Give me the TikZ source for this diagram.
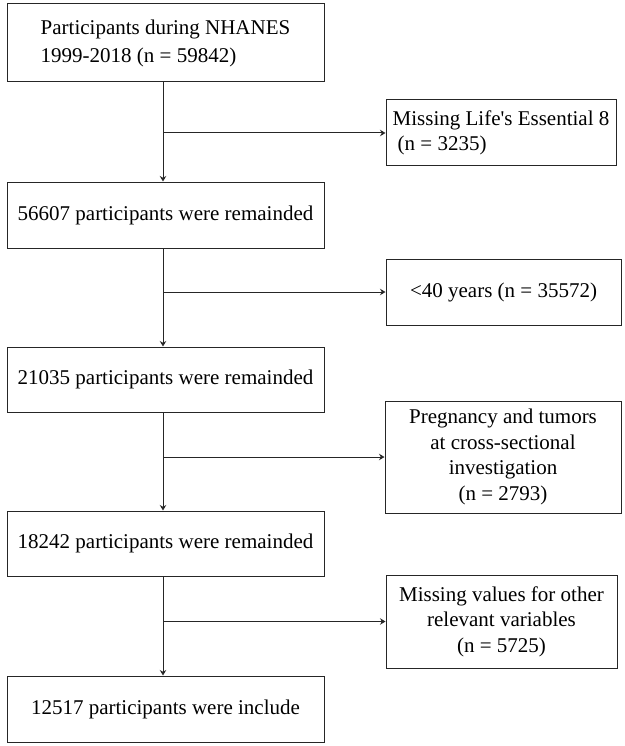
\documentclass[tikz,border=0pt]{standalone}
\usepackage{fontspec}
\setmainfont{Liberation Serif}
\usetikzlibrary{arrows.meta}
\begin{document}
\begin{tikzpicture}[x=1pt,y=-1pt,
  box/.style={draw=black!85, line width=1pt, rectangle, inner sep=0pt, font=\fontsize{21}{25.5}\selectfont, text=black},
  lbox/.style={box, minimum width=317pt},
  arr/.style={draw=black!85, line width=1pt, -{Stealth[length=5.5pt,width=6.5pt]}}
]
\useasboundingbox (0,0) rectangle (624,746);
% left column
\node[lbox, minimum height=78pt, align=left, font=\fontsize{21}{28}\selectfont] (b1) at (165.5,43) {Participants during NHANES\hspace{6pt}\\1999-2018 (n = 59842)};
\node[lbox, minimum height=66pt] (b2) at (165.5,215) {56607 participants were remainded};
\node[lbox, minimum height=65pt] (b3) at (165.5,379.5) {21035 participants were remainded};
\node[lbox, minimum height=65pt] (b4) at (165.5,543.5) {18242 participants were remainded};
\node[lbox, minimum height=66pt] (b5) at (165.5,709) {12517 participants were include};
% right column
\node[box, minimum width=230pt, minimum height=66pt, align=left] (r1) at (501,133) {Missing Life\textquotesingle s Essential 8\\\hspace{5pt}(n = 3235)};
\node[box, minimum width=235pt, minimum height=66pt] (r2) at (503.5,292) {<40 years (n = 35572)};
\node[box, minimum width=236pt, minimum height=112pt, align=center] (r3) at (503,457) {Pregnancy and tumors\\at cross-sectional\\investigation\\(n = 2793)};
\node[box, minimum width=231pt, minimum height=93pt, align=center] (r4) at (501.5,621.5) {Missing values for other\\relevant variables\\(n = 5725)};
% branch points
\coordinate (c1) at ([xshift=-2.5pt]b1.south |- r1.west);
\coordinate (c2) at ([xshift=-2.5pt]b2.south |- r2.west);
\coordinate (c3) at ([xshift=-2.5pt]b3.south |- r3.west);
\coordinate (c4) at ([xshift=-2.5pt]b4.south |- r4.west);
% vertical arrows
\draw[arr] ([xshift=-2.5pt]b1.south) -- ([xshift=-2.5pt]b2.north);
\draw[arr] ([xshift=-2.5pt]b2.south) -- ([xshift=-2.5pt]b3.north);
\draw[arr] ([xshift=-2.5pt]b3.south) -- ([xshift=-2.5pt]b4.north);
\draw[arr] ([xshift=-2.5pt]b4.south) -- ([xshift=-2.5pt]b5.north);
% horizontal arrows
\draw[arr] (c1) -- (r1.west);
\draw[arr] (c2) -- (r2.west);
\draw[arr] (c3) -- (r3.west);
\draw[arr] (c4) -- (r4.west);
\end{tikzpicture}
\end{document}
